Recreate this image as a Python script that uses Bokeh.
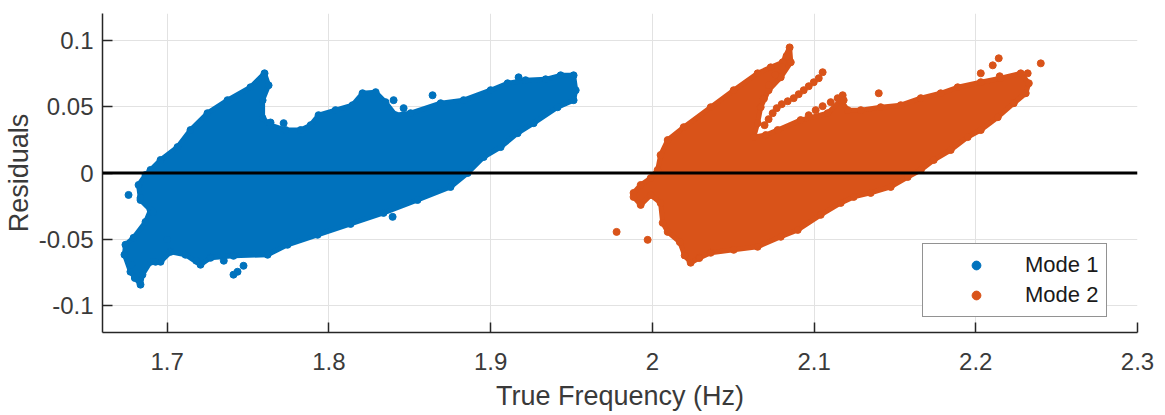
from bokeh.plotting import figure
from bokeh.models import Range1d, FixedTicker, Span, Legend, LegendItem
from bokeh.embed import file_html
from bokeh.resources import INLINE

# ---- data ----
x_ticks = [1.7, 1.8, 1.9, 2.0, 2.1, 2.2, 2.3]
x_tick_labels = ["1.7", "1.8", "1.9", "2", "2.1", "2.2", "2.3"]
y_ticks = [-0.1, -0.05, 0.0, 0.05, 0.1]
y_tick_labels = ["-0.1", "-0.05", "0", "0.05", "0.1"]

# Mode 1: outline of the dense point cloud (points along its edge)
mode1_edge_x = [1.7602, 1.7627, 1.7590, 1.7590, 1.7639, 1.7732, 1.7825, 1.7887, 1.7936, 1.8041,
                1.8146, 1.8208, 1.8289, 1.8350, 1.8412, 1.8505, 1.8691, 1.8833, 1.9000, 1.9105,
                1.9216, 1.9340, 1.9433, 1.9513,
                1.9526, 1.9513, 1.9414, 1.9266, 1.9167, 1.9062, 1.8957, 1.8858, 1.8752, 1.8548,
                1.8338, 1.8134, 1.7930, 1.7744, 1.7621, 1.7410,
                1.7268, 1.7206, 1.7113, 1.7021, 1.6959, 1.6897, 1.6847, 1.6835, 1.6773, 1.6736,
                1.6742, 1.6792, 1.6866, 1.6897, 1.6835, 1.6823, 1.6866, 1.6897, 1.6959, 1.7064,
                1.7144, 1.7249, 1.7373, 1.7515]
mode1_edge_y = [0.075, 0.066, 0.0548, 0.0413, 0.036, 0.0323, 0.0323, 0.036, 0.0435, 0.0473,
                0.051, 0.06, 0.0608, 0.0533, 0.0435, 0.045, 0.0525, 0.0548, 0.0623, 0.0675,
                0.0698, 0.0705, 0.0735, 0.0735,
                0.0623, 0.0548, 0.0495, 0.0375, 0.03, 0.0195, 0.012, 0.0, -0.0105, -0.0203,
                -0.03, -0.0383, -0.0465, -0.054, -0.0615, -0.0623,
                -0.0638, -0.069, -0.0615, -0.0593, -0.0668, -0.0668, -0.0765, -0.084, -0.0743, -0.0615,
                -0.054, -0.0488, -0.0368, -0.0278, -0.0203, -0.009, -0.0015, 0.0023, 0.0098, 0.0195,
                0.0323, 0.045, 0.0548, 0.0645]
# Mode 1: isolated points
mode1_extra_x = [1.6761, 1.6835, 1.6915, 1.6928, 1.7410, 1.7472, 1.7435, 1.8400, 1.8462, 1.8641,
                 1.9173, 1.8394, 1.7720, 1.7639, 1.6800, 1.6780, 1.7000, 1.7180, 1.7350]
mode1_extra_y = [-0.0165, -0.0188, -0.0293, -0.0668, -0.0765, -0.0698, -0.0743, 0.0548, 0.0488, 0.0585,
                 0.072, -0.033, 0.0375, 0.038, -0.0790, -0.0690, -0.0500, -0.0660, -0.0660]

# Mode 2: outline of the dense point cloud
mode2_edge_x = [1.9884, 1.9928, 1.9990, 2.0033, 2.0051, 2.0095, 2.0194, 2.0361, 2.0503, 2.0651,
                2.0732, 2.0806, 2.0849, 2.0856, 2.0794, 2.0719, 2.0670, 2.0651, 2.0627, 2.0701,
                2.0775, 2.0917, 2.1084, 2.1165, 2.1208, 2.1289, 2.1412, 2.1536, 2.1660, 2.1783,
                2.1888, 2.2031, 2.2154, 2.2278, 2.2328, 2.2309, 2.2235, 2.2136, 2.2031, 2.1950,
                2.1845, 2.1740, 2.1660, 2.1579, 2.1474, 2.1350, 2.1245, 2.1165, 2.1041, 2.0899,
                2.0794, 2.0651, 2.0503, 2.0361, 2.0290, 2.0237, 2.0200, 2.0170, 2.0095, 2.0064,
                2.0051, 1.9990, 1.9928, 1.9884]
mode2_edge_y = [-0.015, -0.009, -0.0038, 0.0023, 0.0135, 0.0248, 0.0345, 0.0495, 0.0623, 0.075,
                0.0795, 0.0833, 0.0945, 0.0833, 0.072, 0.0623, 0.0495, 0.0375, 0.027, 0.0285,
                0.0323, 0.0398, 0.045, 0.0548, 0.0473, 0.0473, 0.0495, 0.051, 0.0563, 0.06,
                0.0645, 0.0683, 0.0713, 0.075, 0.0675, 0.06, 0.0525, 0.042, 0.0323, 0.027,
                0.0173, 0.0098, 0.0023, -0.003, -0.0105, -0.015, -0.018, -0.0225, -0.0315, -0.0428,
                -0.048, -0.0555, -0.0578, -0.06, -0.064, -0.0675, -0.062, -0.052, -0.0443, -0.0375,
                -0.0225, -0.0165, -0.024, -0.018]
# Mode 2: streaks and isolated points
mode2_extra_x = [2.1053, 2.1029, 2.0998, 2.0967, 2.0936, 2.0905, 2.0874, 2.0837, 2.0800, 2.0769,
                 2.0744, 2.0719, 2.0694,
                 2.0967, 2.1010, 2.1053, 2.1103, 2.1146, 2.1177,
                 2.0830, 2.0800, 2.0760, 2.0720, 2.0690,
                 2.1400, 2.1183, 2.2031, 2.2105, 2.2142, 2.2402, 2.2321, 2.2148, 1.9779, 1.9971]
mode2_extra_y = [0.0758, 0.0713, 0.0683, 0.0653, 0.0623, 0.0593, 0.0563, 0.054, 0.0518, 0.0488,
                 0.045, 0.0405, 0.036,
                 0.0435, 0.0473, 0.0503, 0.0533, 0.0563, 0.0585,
                 0.0880, 0.0800, 0.0740, 0.0660, 0.0560,
                 0.06, 0.0548, 0.075, 0.081, 0.0863, 0.0825, 0.075, 0.0728, -0.0443, -0.0503]

series_names = ["Mode 1", "Mode 2"]
colors = ["#0072BD", "#D95319"]

FONT = "Liberation Sans"
TXT = "#3a3a3a"
AX = "#262626"

p = figure(width=1165, height=415, x_range=Range1d(1.66, 2.3), y_range=Range1d(-0.12, 0.12),
           output_backend="svg", toolbar_location=None,
           min_border_left=102, min_border_right=28, min_border_top=13, min_border_bottom=83)
p.outline_line_color = None
p.background_fill_color = "white"
p.border_fill_color = "white"

renderers = []
for ex, ey, xx, xy, c in [(mode1_edge_x, mode1_edge_y, mode1_extra_x, mode1_extra_y, colors[0]),
                          (mode2_edge_x, mode2_edge_y, mode2_extra_x, mode2_extra_y, colors[1])]:
    p.patch(ex, ey, fill_color=c, line_color=c, line_width=5, line_join="round")
    r = p.scatter(ex + xx, ey + xy, size=7, fill_color=c, line_color=c)
    renderers.append(r)

p.add_layout(Span(location=0, dimension="width", line_color="black", line_width=3))

p.xaxis.ticker = FixedTicker(ticks=x_ticks)
p.yaxis.ticker = FixedTicker(ticks=y_ticks)
p.xaxis.major_label_overrides = dict(zip(x_ticks, x_tick_labels))
p.yaxis.major_label_overrides = dict(zip(y_ticks, y_tick_labels))

p.xaxis.axis_label = "True Frequency (Hz)"
p.yaxis.axis_label = "Residuals"
for ax in p.axis:
    ax.axis_line_color = AX
    ax.axis_line_width = 1.5
    ax.major_tick_line_color = AX
    ax.major_tick_line_width = 1.5
    ax.major_tick_in = 10
    ax.major_tick_out = 0
    ax.minor_tick_line_color = None
    ax.major_label_text_font = FONT
    ax.major_label_text_font_size = "24px"
    ax.major_label_text_color = TXT
    ax.axis_label_text_font = FONT
    ax.axis_label_text_font_size = "27px"
    ax.axis_label_text_font_style = "normal"
    ax.axis_label_text_color = TXT
p.xaxis.major_label_standoff = 20
p.yaxis.major_label_standoff = 9
p.xaxis.axis_label_standoff = 8
p.yaxis.axis_label_standoff = 2

p.grid.grid_line_color = "#e2e2e2"
p.grid.grid_line_width = 1

legend = Legend(items=[LegendItem(label=series_names[0], renderers=[renderers[0]]),
                       LegendItem(label=series_names[1], renderers=[renderers[1]])],
                location=(820, 15))
legend.label_text_font = FONT
legend.label_text_font_size = "22px"
legend.label_text_color = "#1a1a1a"
legend.border_line_color = AX
legend.border_line_width = 1.5
legend.background_fill_alpha = 1
legend.padding = 8
legend.margin = 0
legend.glyph_width = 90
legend.glyph_height = 22
legend.label_height = 22
legend.label_standoff = 4
legend.spacing = 4
p.add_layout(legend)

open("out.html", "w").write(file_html(p, INLINE))
